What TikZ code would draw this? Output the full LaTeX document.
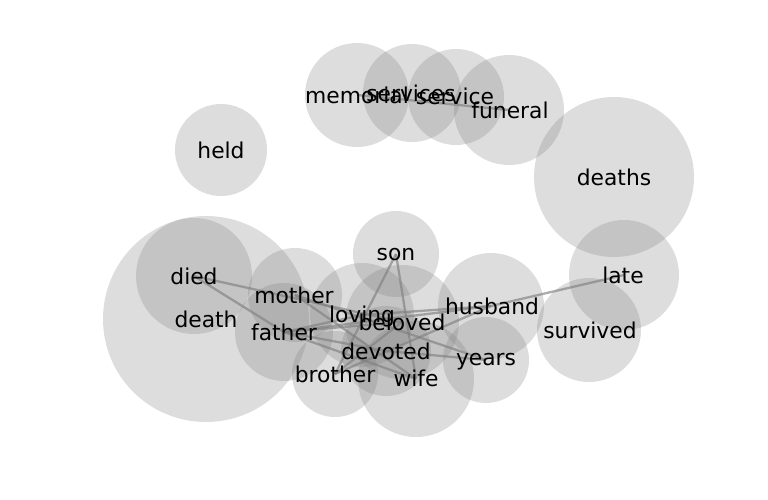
\documentclass[tikz,border=0pt]{standalone}
\usepackage{fontspec}
\setmainfont{DejaVu Sans}
\pgfdeclarelayer{background}
\pgfsetlayers{background,main}
\begin{document}
\begin{tikzpicture}[x=1pt,y=-1pt,
  bub/.style={circle, draw=none, fill=gray, fill opacity=0.27, inner sep=0pt},
  lbl/.style={inner sep=0pt, font=\fontsize{21.8}{24}\selectfont, text=black},
  edge/.style={draw=gray, draw opacity=0.65, line width=2.3pt}]
\useasboundingbox (0,0) rectangle (768,500);
% circles
\node[bub, minimum size=206pt] (death) at (206,319) {};
\node[bub, minimum size=116pt] (died) at (194,276) {};
\node[bub, minimum size=94pt] (mother) at (295,295) {};
\node[bub, minimum size=98pt] (father) at (284,332) {};
\node[bub, minimum size=86pt] (brother) at (335,374) {};
\node[bub, minimum size=104pt] (loving) at (362,315) {};
\node[bub, minimum size=114pt] (beloved) at (402,322) {};
\node[bub, minimum size=90pt] (devoted) at (386,351) {};
\node[bub, minimum size=116pt] (wife) at (416,379) {};
\node[bub, minimum size=86pt] (son) at (396,254) {};
\node[bub, minimum size=106pt] (husband) at (491,306) {};
\node[bub, minimum size=86pt] (years) at (486,360) {};
\node[bub, minimum size=104pt] (survived) at (589,330) {};
\node[bub, minimum size=110pt] (late) at (624,275) {};
\node[bub, minimum size=160pt] (deaths) at (614,177) {};
\node[bub, minimum size=92pt] (held) at (221,150) {};
\node[bub, minimum size=104pt] (memorial) at (357,95) {};
\node[bub, minimum size=98pt] (services) at (412,93) {};
\node[bub, minimum size=96pt] (service) at (456,97) {};
\node[bub, minimum size=110pt] (funeral) at (509,110) {};
% edges
\begin{pgfonlayer}{background}
\foreach \a/\b in {died/beloved, died/father, mother/years, mother/wife,
  father/loving, father/beloved, father/husband, father/devoted, father/wife,
  son/brother, son/wife, loving/husband, brother/husband, brother/beloved,
  devoted/years, husband/late, memorial/funeral}
  \draw[edge] (\a.center) -- (\b.center);
\end{pgfonlayer}
% labels
\node[lbl] (death-l) at (206,319) {death};
\node[lbl] (died-l) at (194,276) {died};
\node[lbl] (mother-l) at (294,295) {mother};
\node[lbl] (father-l) at (284,332) {father};
\node[lbl] (brother-l) at (335,374) {brother};
\node[lbl] (loving-l) at (362,316) {loving};
\node[lbl] (beloved-l) at (402,322) {beloved};
\node[lbl] (devoted-l) at (386,351) {devoted};
\node[lbl] (wife-l) at (416,378) {wife};
\node[lbl] (son-l) at (396,255) {son};
\node[lbl] (husband-l) at (492,306) {husband};
\node[lbl] (years-l) at (486,362) {years};
\node[lbl] (survived-l) at (590,330) {survived};
\node[lbl] (late-l) at (623,275) {late};
\node[lbl] (deaths-l) at (614,177) {deaths};
\node[lbl] (held-l) at (221,150) {held};
\node[lbl] (memorial-l) at (357,95) {memorial};
\node[lbl] (services-l) at (411,93) {services};
\node[lbl] (service-l) at (455,96) {service};
\node[lbl] (funeral-l) at (510,110) {funeral};
\end{tikzpicture}
\end{document}
